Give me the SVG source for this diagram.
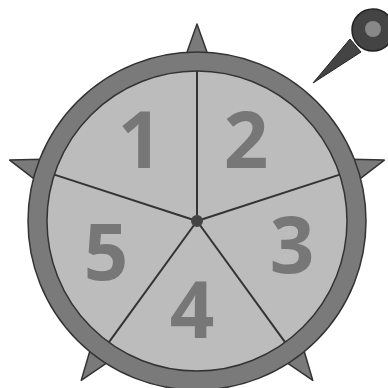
<svg xmlns="http://www.w3.org/2000/svg" width="388" height="388" viewBox="0 0 388 388">
<style>
.spike{fill:#7a7a7a;stroke:#333;stroke-width:1.5;stroke-linejoin:round}
.ring{fill:#7a7a7a;stroke:#333;stroke-width:1.5}
.disk{fill:#bcbcbc;stroke:#333;stroke-width:1.5}
.div{stroke:#333;stroke-width:2;fill:none}
.num{font-family:"Open Sans","Noto Sans",sans-serif;font-weight:bold;font-size:78px;fill:#777;text-anchor:middle}
</style>
<g id="spikes">
<polygon class="spike" points="197,24 186,55 208,55"/>
<polygon class="spike" points="197,24 186,55 208,55" transform="rotate(72 197 221)"/>
<polygon class="spike" points="197,24 186,55 208,55" transform="rotate(144 197 221)"/>
<polygon class="spike" points="197,24 186,55 208,55" transform="rotate(216 197 221)"/>
<polygon class="spike" points="197,24 186,55 208,55" transform="rotate(288 197 221)"/>
</g>
<g id="wheel">
<circle class="ring" cx="197" cy="221" r="169"/>
<circle class="disk" cx="197" cy="221" r="150"/>
</g>
<g id="connectors">
<line class="div" x1="197" y1="221" x2="197" y2="71"/>
<line class="div" x1="197" y1="221" x2="339.7" y2="174.6"/>
<line class="div" x1="197" y1="221" x2="285.2" y2="342.4"/>
<line class="div" x1="197" y1="221" x2="108.8" y2="342.4"/>
<line class="div" x1="197" y1="221" x2="54.3" y2="174.6"/>
</g>
<g id="hub"><circle cx="197" cy="221" r="6" fill="#444"/></g>
<g id="labels">
<text class="num" x="140" y="168">1</text>
<text class="num" x="246" y="168">2</text>
<text class="num" x="292" y="273">3</text>
<text class="num" x="192" y="338">4</text>
<text class="num" x="106" y="280">5</text>
</g>
<g id="pointer">
<polygon points="313,83 350,39 361,52" fill="#444" stroke="#222" stroke-width="1" stroke-linejoin="round"/>
<circle cx="373" cy="30" r="21" fill="#444" stroke="#222" stroke-width="1.5"/>
<circle cx="373" cy="29" r="8" fill="#888"/>
</g>
</svg>
